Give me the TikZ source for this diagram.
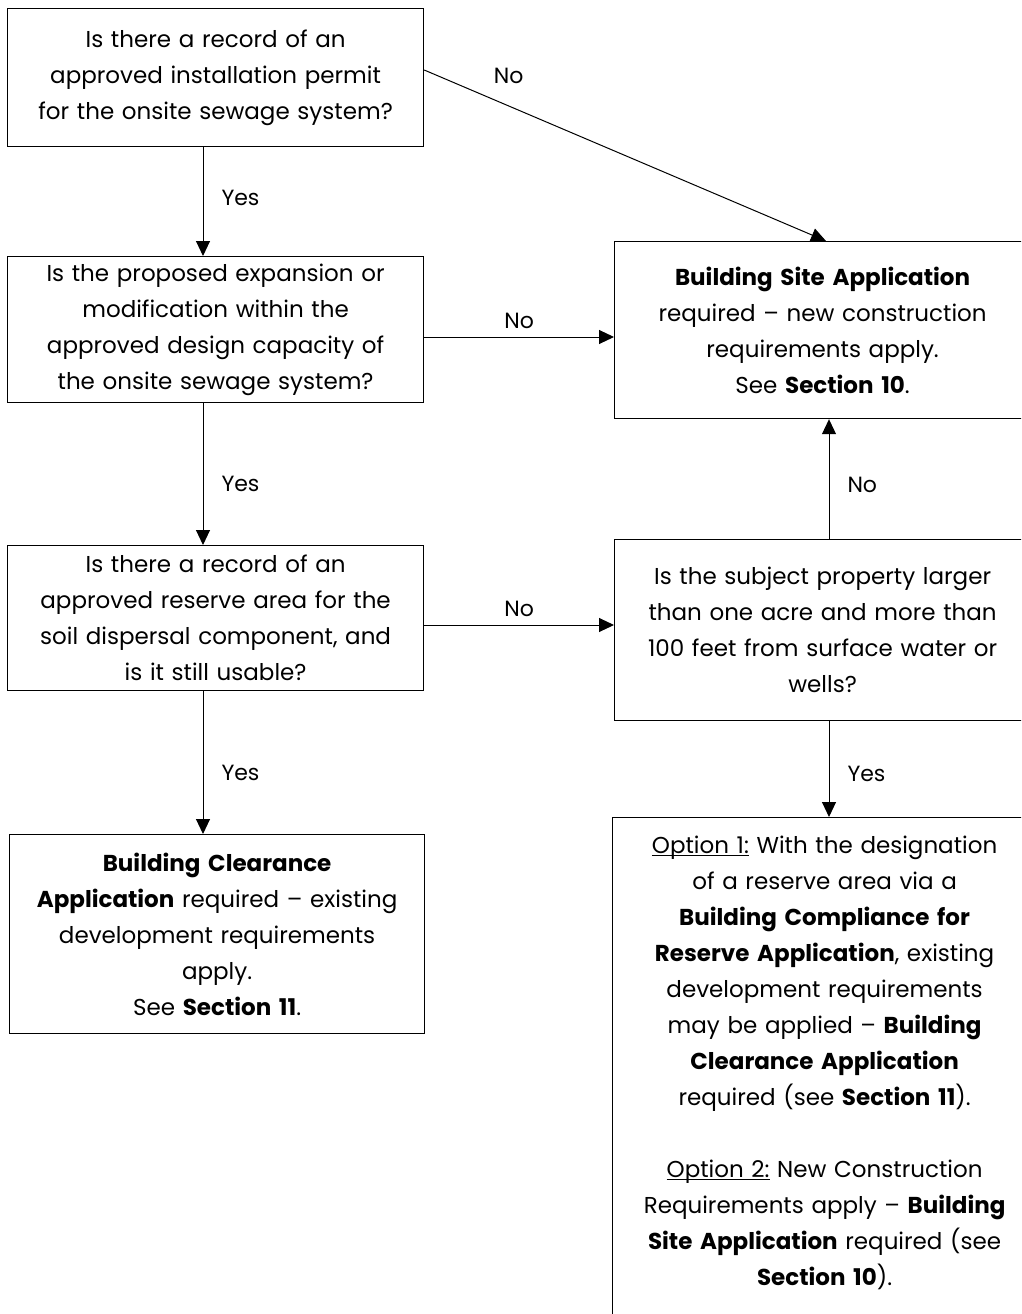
\documentclass[tikz,border=0pt]{standalone}
\usepackage{fontspec}
\setmainfont{Poppins}
\usetikzlibrary{positioning, arrows.meta}
\frenchspacing
\newcommand{\optline}[1]{\leavevmode\setbox0\hbox{#1}\rlap{\rule[-3pt]{\wd0}{1.4pt}}#1}

\tikzset{
  box/.style={draw, rectangle, line width=1.2pt, align=center, anchor=north west,
    inner xsep=0pt, inner ysep=0pt, font=\fontsize{23}{36}\selectfont},
  arr/.style={-{Triangle[length=15pt, width=14pt]}, line width=1pt},
  lbl/.style={inner sep=2pt, font=\fontsize{22}{26}\selectfont}
}

\begin{document}
\begin{tikzpicture}[x=1pt, y=-1pt]
  \useasboundingbox (0,0) rectangle (1021,1314);
  \clip (0,0) rectangle (1021,1314);

  \node[box, text width=416pt, minimum height=138pt] (permit) at (7,8)
    {Is there a record of an\\ approved installation permit\\ for the onsite sewage system?};
  \node[box, text width=416pt, minimum height=146pt] (capacity) at (7,256)
    {Is the proposed expansion or\\ modification within the\\ approved design capacity of\\ the onsite sewage system?};
  \node[box, text width=416pt, minimum height=145pt] (reserve) at (7,545)
    {Is there a record of an\\ approved reserve area for the\\ soil dispersal component, and\\ is it still usable?};
  \node[box, text width=415pt, minimum height=199pt] (clearance) at (9,834)
    {\textbf{Building Clearance}\\ \textbf{Application} required – existing\\ development requirements\\ apply.\\ See \textbf{Section 11}.};

  \node[box, text width=416pt, minimum height=177pt] (siteapp) at (614,241)
    {\textbf{Building Site Application}\\ required – new construction\\ requirements apply.\\ See \textbf{Section 10}.};
  \node[box, text width=416pt, minimum height=181pt] (acre) at (614,539)
    {Is the subject property larger\\ than one acre and more than\\ 100 feet from surface water or\\ wells?};
  \node[box, text width=424pt, inner ysep=18pt] (options) at (612,817)
    {\optline{Option 1:} With the designation\\ of a reserve area via a\\ \textbf{Building Compliance for}\\ \textbf{Reserve Application}, existing\\ development requirements\\ may be applied – \textbf{Building}\\ \textbf{Clearance Application}\\ required (see \textbf{Section 11}).\\ \mbox{}\\ \optline{Option 2:} New Construction\\ Requirements apply – \textbf{Building}\\ \textbf{Site Application} required (see\\ \textbf{Section 10}).\\ \mbox{}};

  \coordinate (lx) at (203,0);
  \coordinate (rx) at (829,0);
  \coordinate (ya) at (0,70);
  \coordinate (xa) at (826,0);
  \coordinate (yb) at (0,337);
  \coordinate (yc) at (0,625);

  \draw [arr] (permit.south -| lx) -- (capacity.north -| lx) node [lbl, pos=0.47, right=16pt] {Yes};
  \draw [arr] (capacity.south -| lx) -- (reserve.north -| lx) node [lbl, pos=0.57, right=16pt] {Yes};
  \draw [arr] (reserve.south -| lx) -- (clearance.north -| lx) node [lbl, pos=0.57, right=16pt] {Yes};
  \draw [arr] (permit.east |- ya) -- (siteapp.north -| xa) node [lbl, pos=0.21, above=20pt] {No};
  \draw [arr] (capacity.east |- yb) -- (siteapp.west |- yb) node [lbl, midway, above=6pt] {No};
  \draw [arr] (reserve.east |- yc) -- (acre.west |- yc) node [lbl, midway, above=6pt] {No};
  \draw [arr] (acre.north -| rx) -- (siteapp.south -| rx) node [lbl, pos=0.45, right=16pt] {No};
  \draw [arr] (acre.south -| rx) -- (options.north -| rx) node [lbl, pos=0.55, right=16pt] {Yes};
\end{tikzpicture}
\end{document}
